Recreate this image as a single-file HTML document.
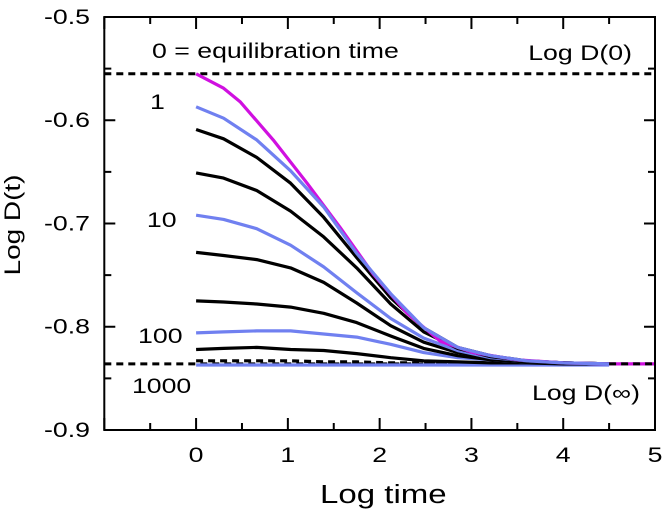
<!DOCTYPE html>
<html><head><meta charset="utf-8"><style>
html,body{margin:0;padding:0;background:#fff}
svg text{font-family:"Liberation Sans",Arial,sans-serif;fill:#000}
</style></head><body>
<svg id="chart" width="666" height="511" viewBox="0 0 666 511" xmlns="http://www.w3.org/2000/svg">
<g id="grid"></g>
<g id="series"></g>
<g id="axes"></g>
<g id="labels" transform="scale(1.27,1)">
<text x="119.7" y="58" font-size="21">0 = equilibration time</text>
<text x="497.6" y="60" font-size="21" text-anchor="end">Log D(0)</text>
<text x="118.1" y="109" font-size="21">1</text>
<text x="115.7" y="227" font-size="21">10</text>
<text x="108.7" y="343" font-size="21">100</text>
<text x="103.9" y="393" font-size="21">1000</text>
<text x="503.9" y="400" font-size="21" text-anchor="end">Log D(∞)</text>
<text x="252" y="503" font-size="26">Log time</text>
</g>
<text transform="translate(20,225) rotate(-90) scale(1.27,1)" font-size="22" text-anchor="middle">Log D(t)</text>
</svg>
<script>
const xTicks=[0,1,2,3,4,5];
const yTicks=[-0.5,-0.6,-0.7,-0.8,-0.9];
const logD0=-0.555;
const logDinf=-0.836;
const tMagenta=[0,0.3,0.48,0.84,1.21,1.57,1.93,2.30,2.66,3.02,3.5,4,4.5,5];
const vMagenta=[-0.555,-0.569,-0.582,-0.619,-0.661,-0.704,-0.749,-0.787,-0.814,-0.825,-0.832,-0.835,-0.836,-0.836];
const tStd=[0,0.3,0.66,1.03,1.39,1.75,2.12,2.48,2.85,3.21,3.6,4,4.5];
const vBlue1=[-0.587,-0.598,-0.619,-0.649,-0.684,-0.729,-0.768,-0.801,-0.820,-0.828,-0.833,-0.835,-0.836];
const vBlackA=[-0.609,-0.618,-0.636,-0.661,-0.694,-0.733,-0.772,-0.801,-0.820,-0.828,-0.833,-0.835,-0.836];
const vBlackB=[-0.651,-0.656,-0.668,-0.688,-0.713,-0.743,-0.778,-0.805,-0.821,-0.829,-0.833,-0.835,-0.836];
const vBlue10=[-0.692,-0.696,-0.705,-0.721,-0.742,-0.767,-0.792,-0.811,-0.823,-0.830,-0.833,-0.835,-0.836];
const vBlackC=[-0.728,-0.731,-0.735,-0.743,-0.757,-0.777,-0.799,-0.815,-0.825,-0.830,-0.834,-0.835,-0.836];
const vBlackD=[-0.775,-0.776,-0.778,-0.781,-0.787,-0.796,-0.809,-0.821,-0.828,-0.832,-0.834,-0.835,-0.836];
const vBlue100=[-0.806,-0.805,-0.804,-0.804,-0.807,-0.810,-0.817,-0.825,-0.830,-0.832,-0.834,-0.835,-0.836];
const vBlackE=[-0.822,-0.821,-0.820,-0.822,-0.823,-0.826,-0.830,-0.833,-0.834,-0.835,-0.835,-0.836,-0.836];
const v1000=[-0.833,-0.833,-0.833,-0.833,-0.834,-0.834,-0.835,-0.835,-0.835,-0.836,-0.836,-0.836,-0.836];
const vBlueLast=[-0.837,-0.837,-0.837,-0.837,-0.837,-0.837,-0.837,-0.837,-0.837,-0.837,-0.837,-0.837,-0.837];

const L=104.3,R=655,T=17,B=430;
const xMin=-1,xMax=5,yMin=-0.9,yMax=-0.5;
const X=v=>L+(v-xMin)/(xMax-xMin)*(R-L);
const Y=v=>B-(v-yMin)/(yMax-yMin)*(B-T);
const NS="http://www.w3.org/2000/svg";
function mk(tag,attrs,parent){const e=document.createElementNS(NS,tag);for(const k in attrs)e.setAttribute(k,attrs[k]);parent.appendChild(e);return e;}
const gS=document.getElementById('series'),gA=document.getElementById('axes'),gG=document.getElementById('grid');
const SX=1.27;

[[logD0,'log-d0-line'],[logDinf,'log-dinf-line']].forEach(([v,n])=>{
  const l=mk('line',{x1:L,x2:R,y1:Y(v),y2:Y(v),stroke:'#000','stroke-width':3,'stroke-dasharray':'7,5'},gG);
  
  
});

function path(ts,vs,color,name,dash){
  const d=ts.map((t,i)=>(i?'L':'M')+X(t).toFixed(1)+','+Y(vs[i]).toFixed(1)).join(' ');
  const p=mk('path',{d:d,fill:'none',stroke:color,'stroke-width':3.2,'stroke-linejoin':'round','stroke-linecap':'butt'},gS);
  if(dash)p.setAttribute('stroke-dasharray',dash);
  
  
}
const blue='#7080f0',black='#000';
path(tStd,v1000,black,'curve-1000','7,5');
path(tStd,vBlueLast,blue,'curve-last');
path(tStd,vBlackE,black,'curve-e');
path(tStd,vBlue100,blue,'curve-100');
path(tStd,vBlackD,black,'curve-d');
path(tStd,vBlackC,black,'curve-c');
path(tStd,vBlue10,blue,'curve-10');
path(tStd,vBlackB,black,'curve-b');
path(tStd,vBlackA,black,'curve-a');
path(tMagenta,vMagenta,'#d010e0','curve-0');
path(tStd,vBlue1,blue,'curve-1');
{const l=mk('line',{x1:X(4.5),x2:R,y1:Y(logDinf),y2:Y(logDinf),stroke:'#000','stroke-width':3,'stroke-dasharray':'7,5'},gS);

}

{const f=mk('rect',{x:L,y:T,width:R-L,height:B-T,fill:'none',stroke:'#000','stroke-width':2},gA);

}
for(let v=xMin;v<=xMax+1e-9;v+=0.5){
  const major=Math.abs(v-Math.round(v))<1e-9, len=major?12:7;
  const x=X(v);
  const t=mk('path',{d:`M${x},${B}v${-len}M${x},${T}v${len}`,stroke:'#000','stroke-width':2},gA);
  
  
}
for(let v=yMin;v<=yMax+1e-9;v+=0.05){
  const major=Math.abs(v*10-Math.round(v*10))<1e-6, len=major?11:7;
  const y=Y(v);
  const t=mk('path',{d:`M${L},${y}h${len}M${R},${y}h${-len}`,stroke:'#000','stroke-width':2},gA);
  
  
}
xTicks.forEach(v=>{
  const t=mk('text',{x:X(v)/SX,y:462,'font-size':21,'text-anchor':'middle',transform:`scale(${SX},1)`},gA);
  t.textContent=v;
  
  
});
yTicks.forEach(v=>{
  const t=mk('text',{x:90/SX,y:Y(v)+7,'font-size':21,'text-anchor':'end',transform:`scale(${SX},1)`},gA);
  t.textContent=v.toFixed(1);
  
  
});
</script>
</body></html>
